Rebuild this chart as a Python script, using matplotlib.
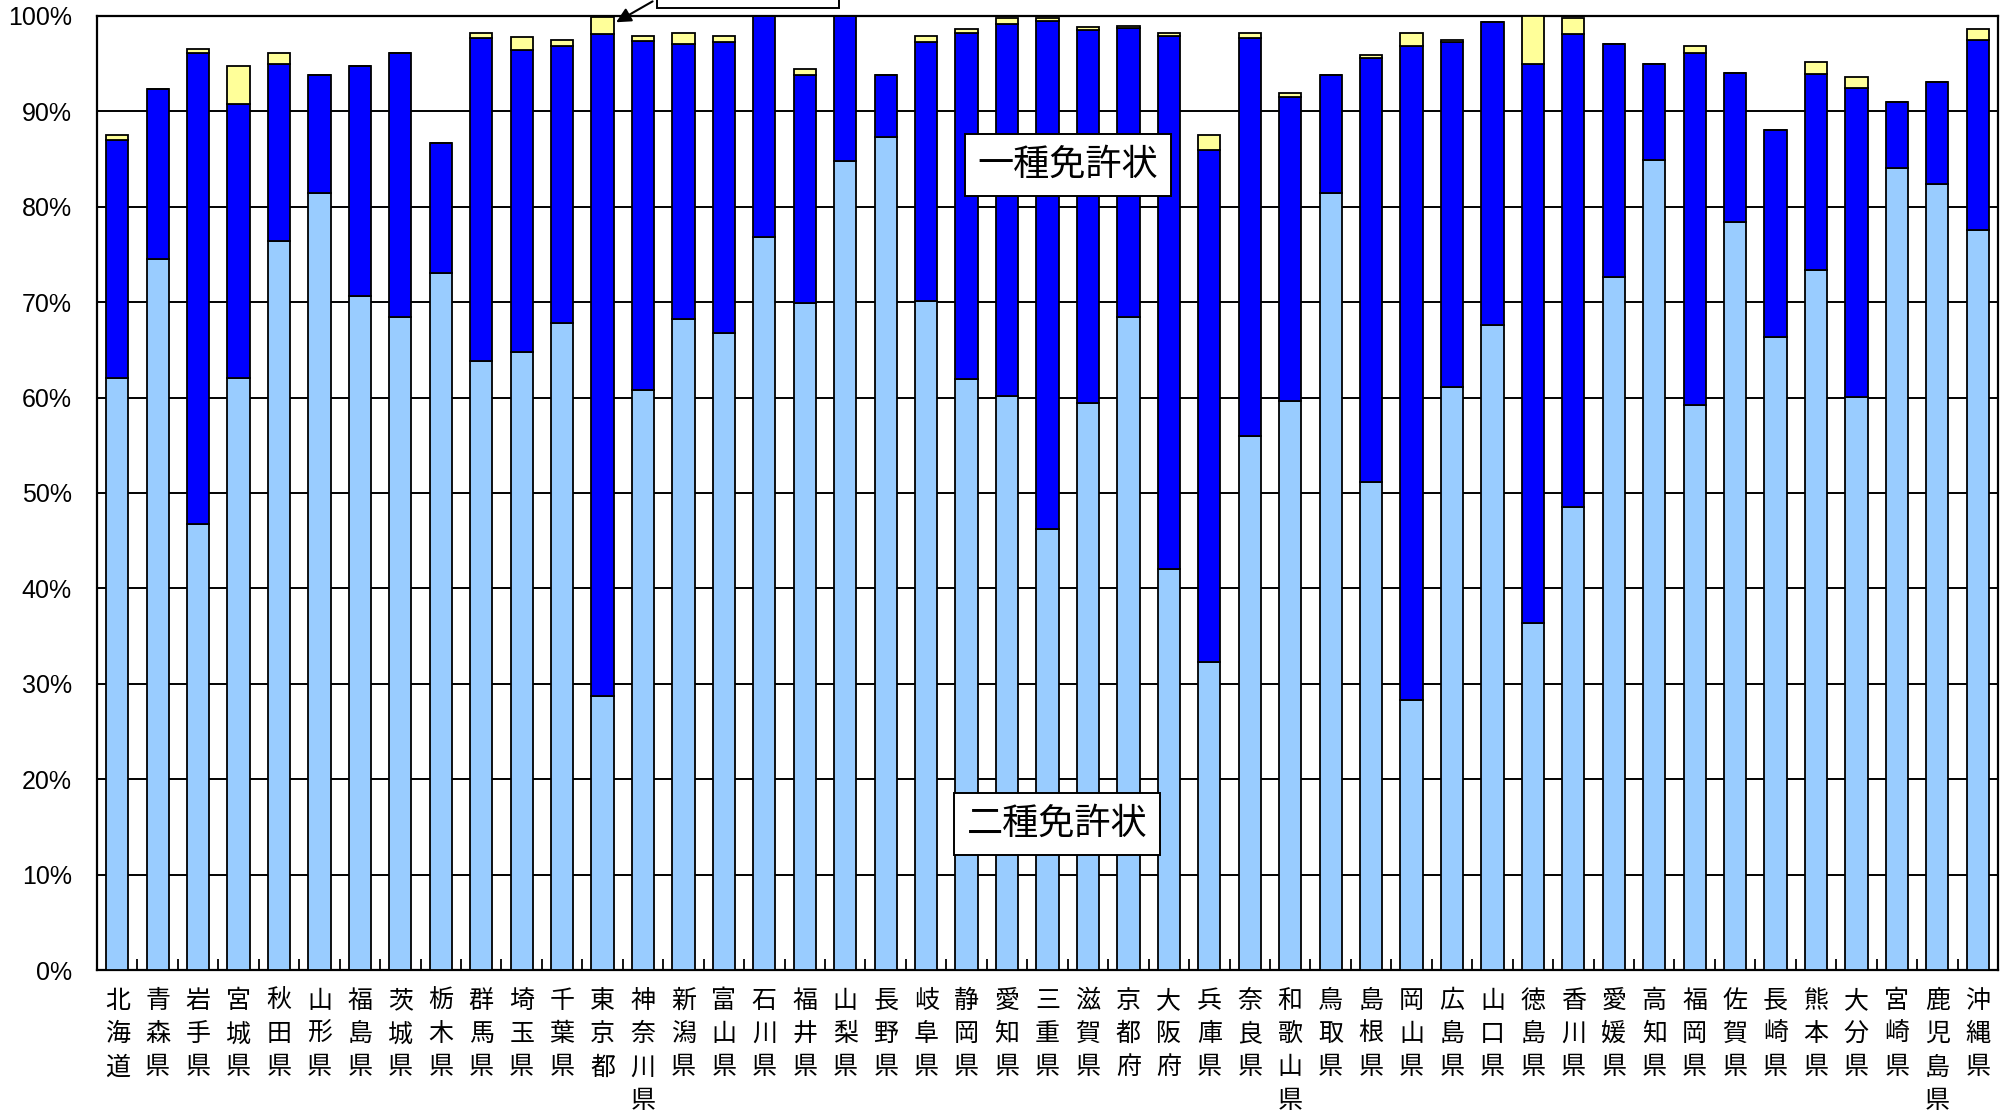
import matplotlib
matplotlib.use("Agg")
import matplotlib.pyplot as plt
import numpy as np

plt.rcParams['font.family'] = ['Noto Sans CJK JP', 'DejaVu Sans']

prefectures = ["北海道", "青森県", "岩手県", "宮城県", "秋田県", "山形県", "福島県", "茨城県",
               "栃木県", "群馬県", "埼玉県", "千葉県", "東京都", "神奈川県", "新潟県", "富山県",
               "石川県", "福井県", "山梨県", "長野県", "岐阜県", "静岡県", "愛知県", "三重県",
               "滋賀県", "京都府", "大阪府", "兵庫県", "奈良県", "和歌山県", "鳥取県", "島根県",
               "岡山県", "広島県", "山口県", "徳島県", "香川県", "愛媛県", "高知県", "福岡県",
               "佐賀県", "長崎県", "熊本県", "大分県", "宮崎県", "鹿児島県", "沖縄県"]

# cumulative tops (percent)
nishu = [62.1, 74.5, 46.7, 62.1, 76.4, 81.4, 70.7, 68.5, 73.1, 63.8, 64.8, 67.8, 28.7, 60.8,
         68.2, 66.8, 76.8, 69.9, 84.8, 87.3, 70.1, 61.9, 60.2, 46.2, 59.4, 68.4, 42.0, 32.3,
         56.0, 59.6, 81.4, 51.2, 28.3, 61.1, 67.6, 36.4, 48.5, 72.6, 84.9, 59.2, 78.4, 66.3,
         73.4, 60.1, 84.1, 82.4, 77.6]
isshu_top = [87.0, 92.3, 96.1, 90.8, 95.0, 93.8, 94.8, 96.1, 86.7, 97.7, 96.4, 96.9, 98.1, 97.4,
             97.1, 97.3, 100.0, 93.8, 100.0, 93.8, 97.3, 98.2, 99.2, 99.5, 98.5, 98.7, 97.9, 86.0,
             97.7, 91.5, 93.8, 95.6, 96.9, 97.3, 99.4, 95.0, 98.1, 97.1, 95.0, 96.1, 94.0, 88.1,
             93.9, 92.5, 91.0, 93.1, 97.5]
total_top = [87.5, 92.3, 96.5, 94.8, 96.1, 93.8, 94.8, 96.1, 86.7, 98.2, 97.8, 97.5, 99.9, 97.9,
             98.2, 97.9, 100.0, 94.4, 100.0, 93.8, 97.9, 98.6, 99.8, 99.8, 98.8, 99.0, 98.2, 87.5,
             98.2, 91.9, 93.8, 95.9, 98.2, 97.5, 99.4, 100.0, 99.8, 97.1, 95.0, 96.9, 94.0, 88.1,
             95.2, 93.6, 91.0, 93.1, 98.6]

nishu = np.array(nishu)
isshu = np.array(isshu_top) - nishu
senshu = np.array(total_top) - np.array(isshu_top)

W, H = 2006, 1110
fig = plt.figure(figsize=(W / 100, H / 100), dpi=100)
ax = fig.add_axes([97 / W, 1 - 970 / H, (1998 - 97) / W, (970 - 16) / H])

x = np.arange(len(prefectures))
bw = 0.55
ec = 'black'
lw = 1.3
ax.bar(x, nishu, bw, color='#99CCFF', edgecolor=ec, linewidth=lw, zorder=3)
ax.bar(x, isshu, bw, bottom=nishu, color='#0000FF', edgecolor=ec, linewidth=lw, zorder=3)
ax.bar(x, senshu, bw, bottom=nishu + isshu, color='#FFFF99', edgecolor=ec, linewidth=lw, zorder=3)

ax.set_xlim(-0.5, len(prefectures) - 0.5)
ax.set_ylim(0, 100)
ax.set_yticks(np.arange(0, 101, 10))
ax.set_yticklabels([f"{v}%" for v in range(0, 101, 10)], fontsize=18,
                   family=['Liberation Sans', 'DejaVu Sans'])
ax.yaxis.grid(True, color='black', linewidth=1.4, zorder=0)
ax.set_axisbelow(True)
ax.tick_params(axis='y', length=0, pad=18)

ax.set_xticks(x)
ax.set_xticklabels(['\n'.join(p) for p in prefectures], fontsize=18, linespacing=1.36,
                   va='top')
ax.tick_params(axis='x', which='major', length=0, pad=13)
ax.set_xticks(np.arange(-0.5, len(prefectures), 1.0), minor=True)
ax.tick_params(axis='x', which='minor', direction='in', length=8, width=1.3)

for s in ax.spines.values():
    s.set_linewidth(1.6)
    s.set_color('black')

box = dict(boxstyle='square,pad=0.35', facecolor='white', edgecolor='black', linewidth=1.4)
fig.text(1068 / W, 1 - 165 / H, "一種免許状", fontsize=26, ha='center', va='center', bbox=box)
fig.text(1057 / W, 1 - 824 / H, "二種免許状", fontsize=26, ha='center', va='center', bbox=box)

# callout at top (mostly outside the image)
fig.text(748 / W, 1 + 19 / H, "専修免許状", fontsize=23, ha='center', va='center', bbox=box)
ax.annotate('', xy=(12 + bw / 2, 99.2), xycoords='data',
            xytext=(655 / W, 1.0), textcoords='figure fraction',
            arrowprops=dict(arrowstyle='-|>', color='black', lw=1.5, mutation_scale=22))

fig.savefig("out.png", dpi=100)
